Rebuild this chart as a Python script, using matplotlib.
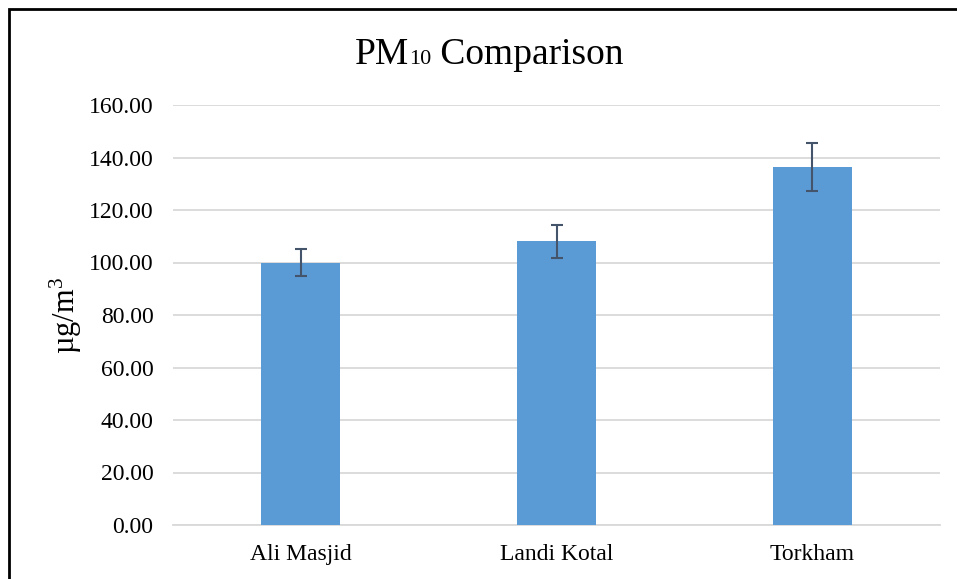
import matplotlib
matplotlib.use("Agg")
import matplotlib.pyplot as plt
from matplotlib.offsetbox import TextArea, HPacker, AnnotationBbox
from matplotlib.patches import Rectangle

plt.rcParams['font.family'] = ['Liberation Serif', 'DejaVu Serif']
plt.rcParams['mathtext.fontset'] = 'custom'
plt.rcParams['mathtext.rm'] = 'Liberation Serif'
plt.rcParams['mathtext.it'] = 'Liberation Serif:italic'

# data
sites = ["Ali Masjid", "Landi Kotal", "Torkham"]
pm10 = [100.0, 108.1, 136.3]
pm10_err = [5.2, 6.3, 9.2]
yticks = [0, 20, 40, 60, 80, 100, 120, 140, 160]

W, H = 957, 579
fig = plt.figure(figsize=(W / 100, H / 100), dpi=100)
ax = fig.add_axes([173 / W, 1 - 525 / H, (940 - 173) / W, (525 - 105) / H])

x = range(len(sites))
ax.bar(x, pm10, width=0.31, color="#5B9BD5", zorder=3,
       yerr=pm10_err, capsize=4.5,
       error_kw=dict(ecolor="#44546A", elinewidth=1.5, capthick=1.5, zorder=4))

ax.set_xlim(-0.5, len(sites) - 0.5)
ax.set_ylim(0, 160)
ax.set_yticks(yticks)
ax.set_yticklabels([f"{v:.2f}" for v in yticks])
ax.set_xticks(list(x))
ax.set_xticklabels(sites)
ax.tick_params(axis="both", length=0, labelsize=17, colors="black")
ax.tick_params(axis="y", pad=14)
ax.tick_params(axis="x", pad=14)

ax.grid(axis="y", color="#D9D9D9", linewidth=1.3, zorder=0)
for s in ["top", "right", "left"]:
    ax.spines[s].set_visible(False)
ax.spines["bottom"].set_color("#D9D9D9")
ax.spines["bottom"].set_linewidth(1.3)

# y label
fig.text(66 / W, 1 - 315 / H, r"µg/m$^{3}$", rotation=90, fontsize=22,
         ha="center", va="center")

# title with small "10"
parts = HPacker(children=[
    TextArea("PM", textprops=dict(fontsize=27)),
    TextArea("10", textprops=dict(fontsize=16)),
    TextArea(" Comparison", textprops=dict(fontsize=27)),
], align="baseline", pad=0, sep=0)
ab = AnnotationBbox(parts, (489 / W, 1 - 72 / H), xycoords="figure fraction",
                    box_alignment=(0.5, 0), frameon=False)
fig.add_artist(ab)

# chart border (left and top visible)
fig.add_artist(Rectangle((9 / W, -0.1), 1.2, 1 - 9 / H + 0.1,
                         transform=fig.transFigure, fill=False,
                         edgecolor="black", linewidth=2))

fig.savefig("out.png", dpi=100)
